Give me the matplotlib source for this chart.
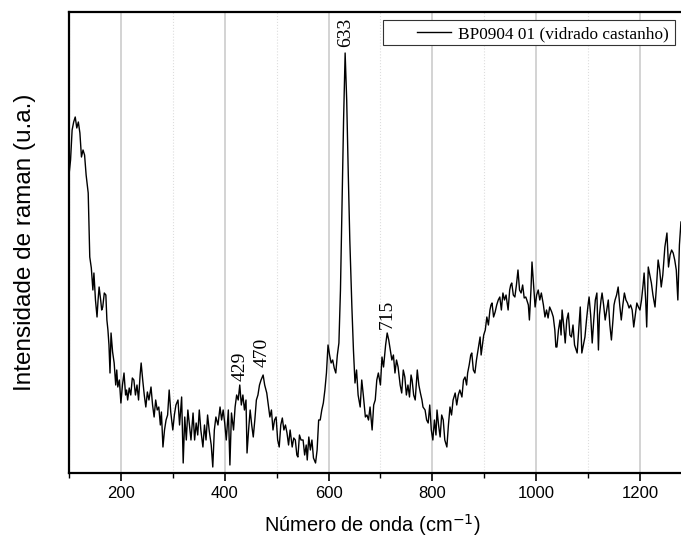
# -*- coding: utf-8 -*-

import numpy as np
import matplotlib.pyplot as plt
from matplotlib.ticker import MultipleLocator
from matplotlib.patches import Rectangle

# Raman spectrum, values (arbitrary units)
wavenumber = [100, 103, 106, 109, 112, 115, 118, 121, 124, 127, 130, 133, 137, 140, 143, 146, 148, 151, 154, 156,
              158, 161, 163, 165, 168, 171, 173, 175, 177, 179, 181, 184, 187, 190, 192, 194, 197, 200, 203, 206,
              209, 211, 213, 216, 219, 222, 225, 228, 231, 234, 237, 239, 242, 245, 248, 251, 254, 258, 261, 264,
              267, 270, 273, 276, 278, 281, 284, 287, 290, 293, 296, 300, 303, 306, 310, 313, 317, 320, 323, 326,
              329, 332, 335, 339, 342, 345, 348, 351, 354, 358, 361, 364, 367, 370, 374, 377, 380, 383, 387, 391,
              394, 397, 400, 403, 407, 410, 413, 417, 420, 423, 426, 429, 432, 435, 438, 441, 443, 446, 449, 452,
              455, 458, 461, 464, 467, 470, 474, 477, 481, 484, 487, 490, 493, 496, 499, 502, 505, 508, 511, 514,
              517, 520, 523, 526, 530, 533, 536, 539, 541, 544, 547, 551, 554, 557, 559, 562, 565, 568, 571, 575,
              578, 581, 584, 587, 590, 593, 596, 599, 602, 605, 608, 611, 614, 617, 620, 623, 626, 629, 632, 635,
              638, 641, 645, 648, 651, 654, 657, 661, 664, 667, 671, 674, 677, 680, 684, 687, 690, 693, 696, 700,
              703, 706, 710, 713, 716, 719, 722, 725, 728, 731, 734, 738, 741, 744, 747, 750, 753, 756, 759, 761,
              764, 767, 771, 774, 777, 780, 782, 786, 789, 792, 795, 798, 801, 804, 807, 809, 812, 815, 818, 821,
              824, 828, 831, 834, 837, 840, 844, 847, 850, 853, 857, 860, 863, 866, 868, 871, 874, 876, 879, 882,
              885, 888, 892, 894, 896, 899, 902, 905, 908, 911, 913, 915, 918, 921, 924, 927, 930, 933, 936, 939,
              942, 946, 949, 951, 953, 956, 959, 962, 965, 968, 971, 974, 977, 980, 982, 985, 987, 990, 992, 995,
              998, 1001, 1004, 1007, 1010, 1014, 1017, 1020, 1023, 1026, 1030, 1033, 1036, 1038, 1040, 1043, 1046,
              1048, 1050, 1053, 1056, 1059, 1062, 1065, 1068, 1071, 1074, 1077, 1079, 1082, 1085, 1088, 1091, 1094,
              1097, 1100, 1102, 1105, 1108, 1111, 1114, 1117, 1120, 1122, 1125, 1127, 1130, 1133, 1136, 1139, 1142,
              1145, 1148, 1150, 1152, 1155, 1158, 1161, 1164, 1167, 1170, 1173, 1176, 1179, 1182, 1185, 1188, 1191,
              1194, 1197, 1200, 1203, 1206, 1208, 1211, 1213, 1216, 1219, 1222, 1225, 1229, 1232, 1235, 1238, 1241,
              1244, 1248, 1250, 1252, 1255, 1258, 1261, 1264, 1267, 1270, 1273, 1276, 1279]

intensity = [298, 313, 343, 351, 356, 345, 351, 340, 316, 323, 318, 298, 280, 216, 205, 183, 200, 173, 156, 173,
             186, 173, 163, 166, 180, 178, 153, 143, 128, 100, 140, 121, 110, 88, 103, 86, 93, 70, 88, 100,
             78, 83, 73, 85, 78, 95, 93, 78, 88, 73, 98, 110, 93, 78, 66, 81, 73, 86, 68, 56,
             73, 63, 66, 48, 61, 26, 43, 53, 58, 83, 61, 43, 58, 68, 73, 48, 76, 10, 56, 33,
             63, 48, 33, 60, 33, 50, 38, 63, 43, 26, 48, 33, 58, 43, 28, 6, 43, 56, 48, 66,
             53, 63, 50, 33, 63, 8, 60, 43, 66, 78, 73, 88, 68, 78, 63, 73, 20, 43, 63, 48,
             36, 53, 73, 78, 88, 93, 98, 88, 80, 68, 56, 63, 43, 53, 56, 33, 26, 48, 55, 43,
             48, 40, 28, 43, 26, 35, 33, 18, 16, 38, 33, 33, 18, 28, 13, 36, 23, 33, 15, 10,
             23, 53, 53, 63, 70, 83, 100, 128, 118, 110, 113, 105, 100, 118, 130, 183, 266, 353, 420, 373,
             300, 233, 166, 123, 90, 103, 78, 66, 93, 78, 56, 58, 53, 66, 43, 68, 73, 93, 100, 88,
             116, 106, 128, 140, 133, 123, 113, 118, 100, 113, 106, 88, 80, 103, 96, 78, 88, 76, 98, 93,
             78, 73, 103, 88, 80, 73, 66, 63, 53, 50, 68, 43, 33, 53, 38, 63, 48, 36, 58, 53,
             33, 26, 48, 66, 58, 73, 80, 68, 78, 83, 76, 93, 96, 88, 100, 108, 118, 120, 103, 100,
             113, 123, 136, 118, 126, 138, 143, 156, 148, 163, 168, 170, 156, 161, 168, 173, 176, 163, 180, 173,
             178, 163, 183, 188, 190, 178, 176, 188, 203, 183, 180, 188, 175, 176, 173, 168, 153, 183, 211, 188,
             166, 178, 183, 173, 180, 168, 156, 163, 155, 166, 161, 156, 143, 126, 126, 143, 153,
             138, 163, 148, 130, 153, 160, 138, 136, 148, 128, 123, 120, 143, 166, 120, 128, 136,
             153, 168, 176, 158, 130, 153, 173, 180, 123, 158, 173, 180, 168, 153, 163, 173, 148,
             133, 153, 168, 173, 178, 186, 168, 153, 168, 180, 173, 170, 165, 168, 163, 146, 158,
             170, 166, 163, 173, 188, 200, 173, 146, 206, 198, 190, 178, 166, 188, 213, 203, 186,
             198, 226, 233, 240, 206, 218, 223, 220, 213, 203, 173, 228, 251]

# labelled peaks: (position, height of label base)
peak_pos = [429, 472, 632, 713]
peak_txt = ['429', '470', '633', '715']
peak_lab_y = [92, 106, 426, 144]

fig = plt.figure(figsize=(6.81, 5.46), dpi=100)
ax = fig.add_axes([69/681, 1-473/546, 613/681, 461/546])

ax.plot(wavenumber, intensity, color='black', lw=1.0, label='BP0904 01 (vidrado castanho)')

for p, t, h in zip(peak_pos, peak_txt, peak_lab_y):
    ax.text(p, h, t, rotation=90, ha='center', va='bottom',
            family='Liberation Serif', fontsize=14)

ax.set_xlim(100, 1281)
ax.set_ylim(0, 461)
ax.xaxis.set_major_locator(MultipleLocator(200))
ax.xaxis.set_minor_locator(MultipleLocator(100))
ax.grid(which='major', axis='x', color='#c8c8c8', lw=1.1)
ax.grid(which='minor', axis='x', color='#dddddd', lw=0.8, ls=':')
ax.set_axisbelow(True)
ax.set_yticks([])
ax.tick_params(axis='x', which='major', length=6, width=1.2, labelsize=12, direction='out')
ax.tick_params(axis='x', which='minor', length=3.5, width=1.0, direction='out')
for lab in ax.get_xticklabels():
    lab.set_family('Liberation Sans')
for s in ['left', 'bottom', 'top']:
    ax.spines[s].set_linewidth(1.6)
ax.spines['right'].set_visible(False)

ax.set_xlabel('Número de onda (cm$^{-1}$)', fontsize=14.4, family='Liberation Sans')
ax.xaxis.set_label_coords(0.495, -0.085)
ax.set_ylabel('Intensidade de raman (u.a.)', fontsize=17.5, family='Liberation Sans', labelpad=24)

# legend box (wider than its content, as in the original)
box = Rectangle((383/681, 1-45/546), 292/681, 25/546, transform=fig.transFigure,
                facecolor='white', edgecolor='#333333', lw=0.8, clip_on=False, zorder=4)
ax.add_patch(box)
leg = ax.legend(loc='upper right', bbox_to_anchor=(675/681, 1-20/546),
                bbox_transform=fig.transFigure, frameon=False,
                borderaxespad=0, borderpad=0.35, handlelength=2.0,
                handletextpad=0.4, prop={'family': 'Liberation Serif', 'size': 12.4})
leg.set_zorder(5)

plt.savefig('out.png', dpi=100)
